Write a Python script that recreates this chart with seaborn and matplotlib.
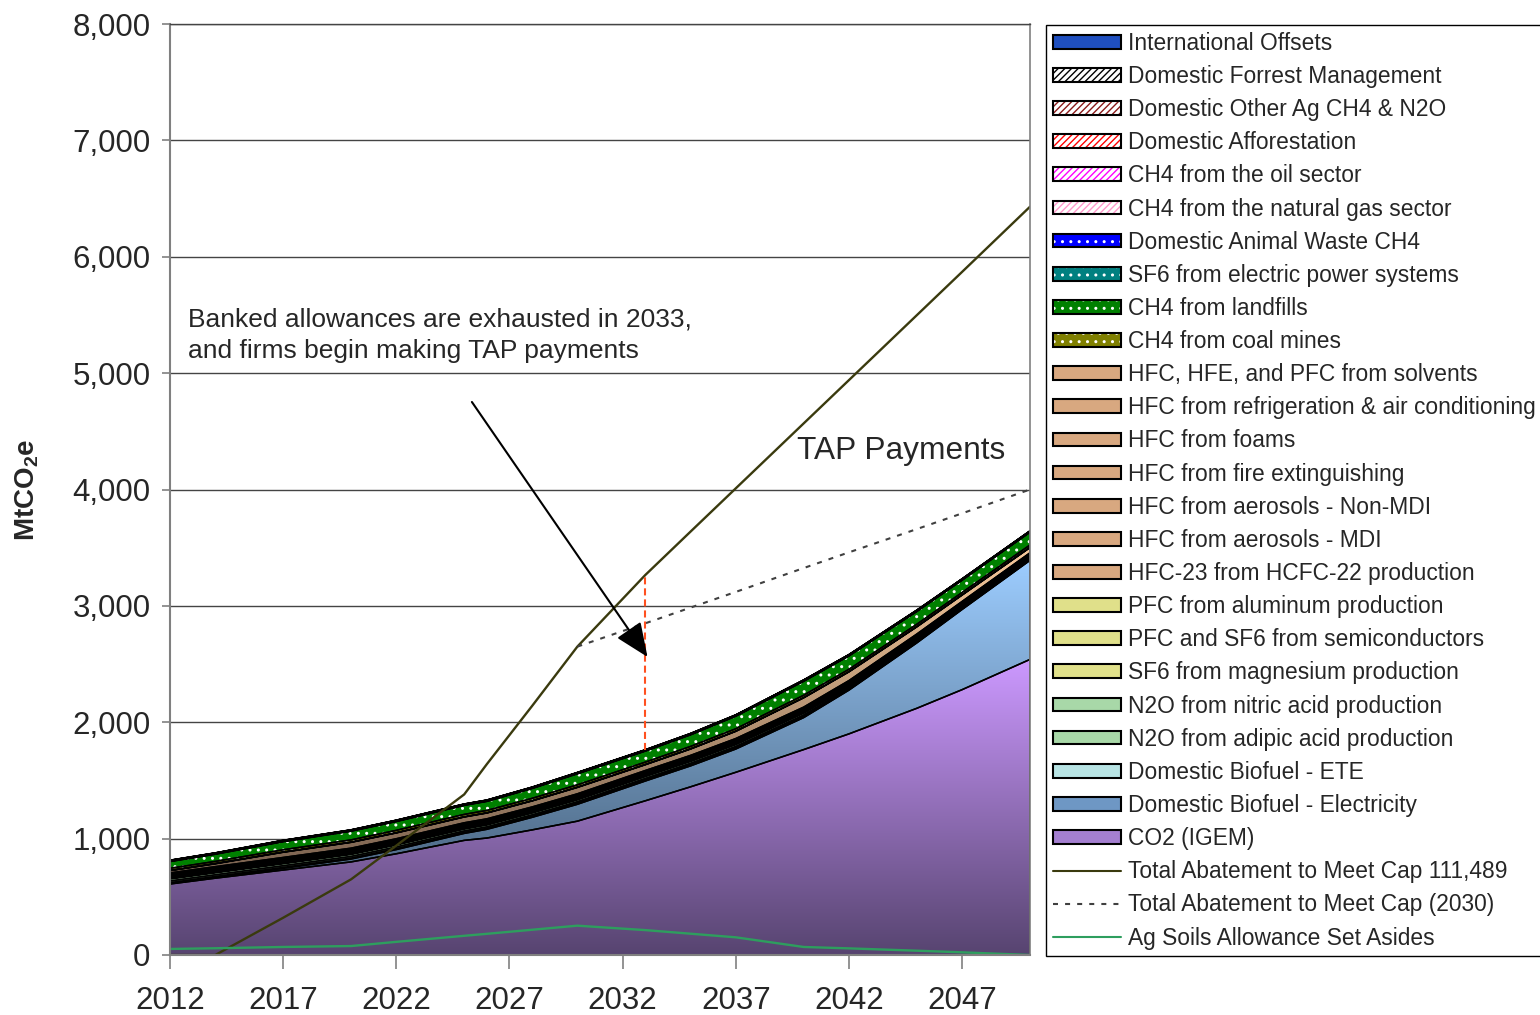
import numpy as np
import pandas as pd
import seaborn as sns
import matplotlib
matplotlib.use('Agg')
import matplotlib.pyplot as plt
from matplotlib.patches import Patch
from matplotlib.lines import Line2D
from matplotlib.colors import LinearSegmentedColormap
from matplotlib.legend_handler import HandlerTuple
from matplotlib.ticker import FuncFormatter

# --- data (MtCO2e) ---
years = [2012, 2014, 2017, 2020, 2022, 2025, 2026, 2028, 2030, 2033, 2035, 2037, 2040, 2042, 2045, 2047, 2050]

co2_igem = [610, 660, 730, 800, 870, 985, 1005, 1075, 1150, 1325, 1445, 1570, 1765, 1900, 2120, 2280, 2540]
biofuel_elec = [5, 8, 15, 25, 36, 60, 75, 108, 145, 170, 180, 200, 275, 376, 562, 689, 851]
biofuel_ete = [6, 6, 7, 7, 7, 7, 7, 7, 8, 8, 8, 8, 8, 7, 7, 6, 6]
n2o_adipic = [15, 15, 15, 15, 15, 14, 14, 14, 14, 14, 14, 14, 14, 13, 12, 11, 10]
n2o_nitric = [18, 18, 18, 18, 18, 17, 17, 17, 17, 17, 17, 17, 17, 15, 14, 13, 12]
sf6_magnesium = [4, 4, 4, 4, 4, 4, 4, 4, 4, 4, 4, 4, 4, 4, 3, 3, 3]
pfc_semi = [8, 8, 9, 9, 9, 9, 9, 9, 9, 9, 9, 9, 9, 8, 7, 7, 6]
pfc_aluminum = [7, 7, 7, 7, 7, 7, 7, 7, 7, 7, 7, 7, 7, 6, 6, 5, 5]
hfc23 = [12, 13, 13, 13, 13, 13, 12, 11, 11, 11, 11, 11, 11, 10, 9, 8, 7]
hfc_mdi = [2, 2, 2, 2, 2, 2, 2, 2, 2, 2, 2, 2, 2, 2, 2, 2, 2]
hfc_nonmdi = [5, 5, 5, 5, 5, 5, 5, 5, 5, 5, 5, 5, 5, 5, 4, 4, 4]
hfc_fire = [4, 4, 4, 4, 4, 4, 4, 4, 4, 4, 4, 4, 4, 4, 4, 3, 3]
hfc_foams = [9, 9, 9, 9, 9, 9, 9, 9, 9, 9, 9, 9, 9, 8, 8, 7, 7]
hfc_refrig = [20, 25, 45, 50, 50, 50, 50, 52, 55, 50, 55, 62, 80, 75, 62, 55, 45]
hfc_solvents = [2, 2, 2, 2, 2, 2, 2, 2, 2, 2, 2, 2, 2, 2, 2, 2, 2]
ch4_coal = [18, 18, 19, 19, 20, 20, 20, 20, 20, 20, 20, 20, 20, 20, 20, 20, 20]
ch4_landfill = [58, 62, 70, 75, 76, 78, 78, 85, 95, 95, 100, 108, 120, 115, 110, 106, 110]
sf6_electric = [3, 3, 3, 3, 3, 3, 3, 3, 3, 3, 3, 3, 3, 3, 3, 3, 3]
animal_waste = [2, 2, 2, 2, 2, 2, 2, 2, 2, 2, 2, 2, 2, 2, 2, 2, 2]
ch4_gas = [2, 2, 2, 2, 2, 2, 2, 2, 2, 2, 2, 2, 2, 2, 2, 2, 2]
ch4_oil = [1, 1, 1, 1, 1, 1, 1, 1, 1, 1, 1, 1, 1, 1, 1, 1, 1]
afforestation = [1, 1, 1, 1, 1, 1, 1, 1, 1, 1, 1, 1, 1, 1, 1, 1, 1]
other_ag = [1, 1, 1, 1, 1, 1, 1, 1, 1, 1, 1, 1, 1, 1, 1, 1, 1]
forest_mgmt = [1, 1, 1, 1, 1, 1, 1, 1, 1, 1, 1, 1, 1, 1, 1, 1, 1]
intl_offsets = [1, 1, 1, 1, 1, 1, 1, 1, 1, 1, 1, 1, 1, 1, 1, 1, 1]

total_abatement = [0, 0, 320, 650, 940, 1380, 1640, 2140, 2650, 3265, 3638, 4010, 4568, 4940, 5498, 5870, 6430]
abatement_2030 = [np.nan, np.nan, np.nan, np.nan, np.nan, np.nan, np.nan, np.nan,
                  2650, 2850, 2985, 3120, 3325, 3460, 3660, 3795, 4000]
ag_soils = [52, 58, 69, 77, 113, 165, 182, 217, 252, 214, 183, 152, 69, 57, 37, 23, 0]

# bottom -> top: label, values, face, hatch, hatch colour, gradient (top, bottom)
stack = [
    ('CO2 (IGEM)', co2_igem, '#A47FD0', None, None, ('#CC99FF', '#574470')),
    ('Domestic Biofuel - Electricity', biofuel_elec, '#6E97C4', None, None, ('#9DCDFF', '#4A6580')),
    ('Domestic Biofuel - ETE', biofuel_ete, '#B8E4E4', None, None, None),
    ('N2O from adipic acid production', n2o_adipic, '#A8D8A8', None, None, None),
    ('N2O from nitric acid production', n2o_nitric, '#A8D8A8', None, None, None),
    ('SF6 from magnesium production', sf6_magnesium, '#E0E08A', None, None, None),
    ('PFC and SF6 from semiconductors', pfc_semi, '#E0E08A', None, None, None),
    ('PFC from aluminum production', pfc_aluminum, '#E0E08A', None, None, None),
    ('HFC-23 from HCFC-22 production', hfc23, '#D8A880', None, None, None),
    ('HFC from aerosols - MDI', hfc_mdi, '#D8A880', None, None, None),
    ('HFC from aerosols - Non-MDI', hfc_nonmdi, '#D8A880', None, None, None),
    ('HFC from fire extinguishing', hfc_fire, '#D8A880', None, None, None),
    ('HFC from foams', hfc_foams, '#D8A880', None, None, None),
    ('HFC from refrigeration & air conditioning', hfc_refrig, '#D8A880', None, None, ('#F7C99B', '#7A6250')),
    ('HFC, HFE, and PFC from solvents', hfc_solvents, '#D8A880', None, None, None),
    ('CH4 from coal mines', ch4_coal, '#808000', '..', 'white', None),
    ('CH4 from landfills', ch4_landfill, '#008000', '..', 'white', None),
    ('SF6 from electric power systems', sf6_electric, '#008080', '..', 'white', None),
    ('Domestic Animal Waste CH4', animal_waste, '#0000FF', '..', 'white', None),
    ('CH4 from the natural gas sector', ch4_gas, 'white', '/////', '#FF99CC', None),
    ('CH4 from the oil sector', ch4_oil, 'white', '/////', '#FF00FF', None),
    ('Domestic Afforestation', afforestation, 'white', '/////', '#FF0000', None),
    ('Domestic Other Ag CH4 & N2O', other_ag, 'white', '/////', '#8B1A1A', None),
    ('Domestic Forrest Management', forest_mgmt, 'white', '/////', 'black', None),
    ('International Offsets', intl_offsets, '#1F4FBF', None, None, None),
]

sns.set_style('white')
plt.rcParams['font.family'] = ['Liberation Sans', 'DejaVu Sans']
plt.rcParams['mathtext.fontset'] = 'custom'
plt.rcParams['mathtext.rm'] = 'Liberation Sans'
plt.rcParams['mathtext.bf'] = 'Liberation Sans:bold'
plt.rcParams['hatch.linewidth'] = 1.0

fig = plt.figure(figsize=(15.4, 10.15), dpi=100)
ax = fig.add_axes([170 / 1540, 1 - 955 / 1015, 860 / 1540, 931 / 1015])

x = np.array(years, dtype=float)
base = np.zeros(len(years))
for label, vals, face, hatch, hcol, grad in stack:
    top = base + np.array(vals, dtype=float)
    poly = ax.fill_between(x, base, top, facecolor=face, edgecolor='none', lw=0, zorder=2)
    if grad is not None:
        cmap = LinearSegmentedColormap.from_list(label, [grad[1], grad[0]])
        g = np.linspace(0, 1, 256).reshape(-1, 1)
        im = ax.imshow(g, extent=[x.min(), x.max(), base.min(), top.max()], origin='lower',
                       aspect='auto', cmap=cmap, zorder=2.05, interpolation='bilinear')
        im.set_clip_path(poly.get_paths()[0], transform=ax.transData)
    if hatch is not None:
        ax.fill_between(x, base, top, facecolor='none', edgecolor=hcol, hatch=hatch, lw=0, zorder=2.1)
    ax.fill_between(x, base, top, facecolor='none', edgecolor='black', lw=1.1, zorder=2.4)
    base = top
stack_total = base

lines = pd.DataFrame({'year': years, 'total': total_abatement,
                      'cap2030': abatement_2030, 'agsoils': ag_soils})
sns.lineplot(data=lines, x='year', y='total', color='#3A3A0E', lw=1.7, ax=ax, legend=False, zorder=4)
sns.lineplot(data=lines.dropna(), x='year', y='cap2030', color='#404040', lw=1.5,
             linestyle=(0, (2.4, 3.4)), ax=ax, legend=False, zorder=4)
sns.lineplot(data=lines, x='year', y='agsoils', color='#2E9E5E', lw=1.7, ax=ax, legend=False, zorder=4)

# TAP payment gap in 2033
i33 = years.index(2033)
ax.plot([2033, 2033], [stack_total[i33], total_abatement[i33]], color='#FF5020', lw=1.5,
        linestyle=(0, (3.4, 1.9)), zorder=4.5)

ax.annotate('', xy=(2033.1, 2561), xytext=(2025.34, 4752),
            arrowprops=dict(arrowstyle='-|>,head_length=0.7,head_width=0.3', color='black',
                            lw=1.5, mutation_scale=30, shrinkA=0, shrinkB=0), zorder=5)
ax.text(0.021, 0.696, 'Banked allowances are exhausted in 2033,\nand firms begin making TAP payments',
        transform=ax.transAxes, fontsize=19, va='top', ha='left', linespacing=1.42)
ax.text(0.729, 0.5328, 'TAP Payments', transform=ax.transAxes, fontsize=22.8, va='baseline', ha='left')

ax.set_xlim(2012, 2050)
ax.set_ylim(0, 8000)
ax.set_xticks(range(2012, 2050, 5))
ax.set_yticks(range(0, 8001, 1000))
ax.yaxis.set_major_formatter(FuncFormatter(lambda v, p: f'{v:,.0f}'))
ax.set_xlabel('')
ax.set_ylabel(r'MtCO$_\mathbf{2}$e', fontsize=20, fontweight='bold')
ax.yaxis.set_label_coords(-0.15, 0.5)
ax.tick_params(axis='both', labelsize=22.5, color='#808080', direction='out')
ax.tick_params(axis='y', length=6, width=1.2, pad=8, left=True)
ax.tick_params(axis='x', length=10, width=1.2, pad=12, bottom=True)
ax.yaxis.grid(True, color='#444444', lw=1.0)
ax.set_axisbelow(True)
for side in ['left', 'bottom']:
    ax.spines[side].set_color('#808080')
    ax.spines[side].set_linewidth(1.5)
ax.spines['right'].set_color('#808080')
ax.spines['right'].set_linewidth(1.2)
ax.spines['top'].set_color('#444444')
ax.spines['top'].set_linewidth(1.0)
for s in ax.spines.values():
    s.set_zorder(6)

# legend: reverse of stacking order, then the lines
handles, labels = [], []
for label, vals, face, hatch, hcol, grad in reversed(stack):
    if hatch is None:
        handles.append(Patch(facecolor=face, edgecolor='black', lw=1.5))
    else:
        handles.append((Patch(facecolor=face, edgecolor='none', lw=0),
                        Patch(facecolor='none', edgecolor=hcol, hatch=hatch, lw=0),
                        Patch(facecolor='none', edgecolor='black', lw=1.5)))
    labels.append(label)
handles += [Line2D([], [], color='#3A3A0E', lw=1.5),
            Line2D([], [], color='#404040', lw=1.5, linestyle=(0, (2.4, 3.4))),
            Line2D([], [], color='#2E9E5E', lw=1.5)]
labels += ['Total Abatement to Meet Cap 111,489', 'Total Abatement to Meet Cap (2030)',
           'Ag Soils Allowance Set Asides']

leg = fig.legend(handles, labels, loc='upper left', bbox_to_anchor=(1046 / 1540, 1 - 25 / 1015),
                 fontsize=16.4, handlelength=3.0, handleheight=0.55, handletextpad=0.3,
                 labelspacing=0.445, borderpad=0.3, borderaxespad=0, fancybox=False,
                 frameon=True, edgecolor='black', framealpha=1,
                 handler_map={tuple: HandlerTuple(ndivide=1, pad=0)})
leg.get_frame().set_linewidth(1.0)

fig.savefig('out.png', dpi=100)
